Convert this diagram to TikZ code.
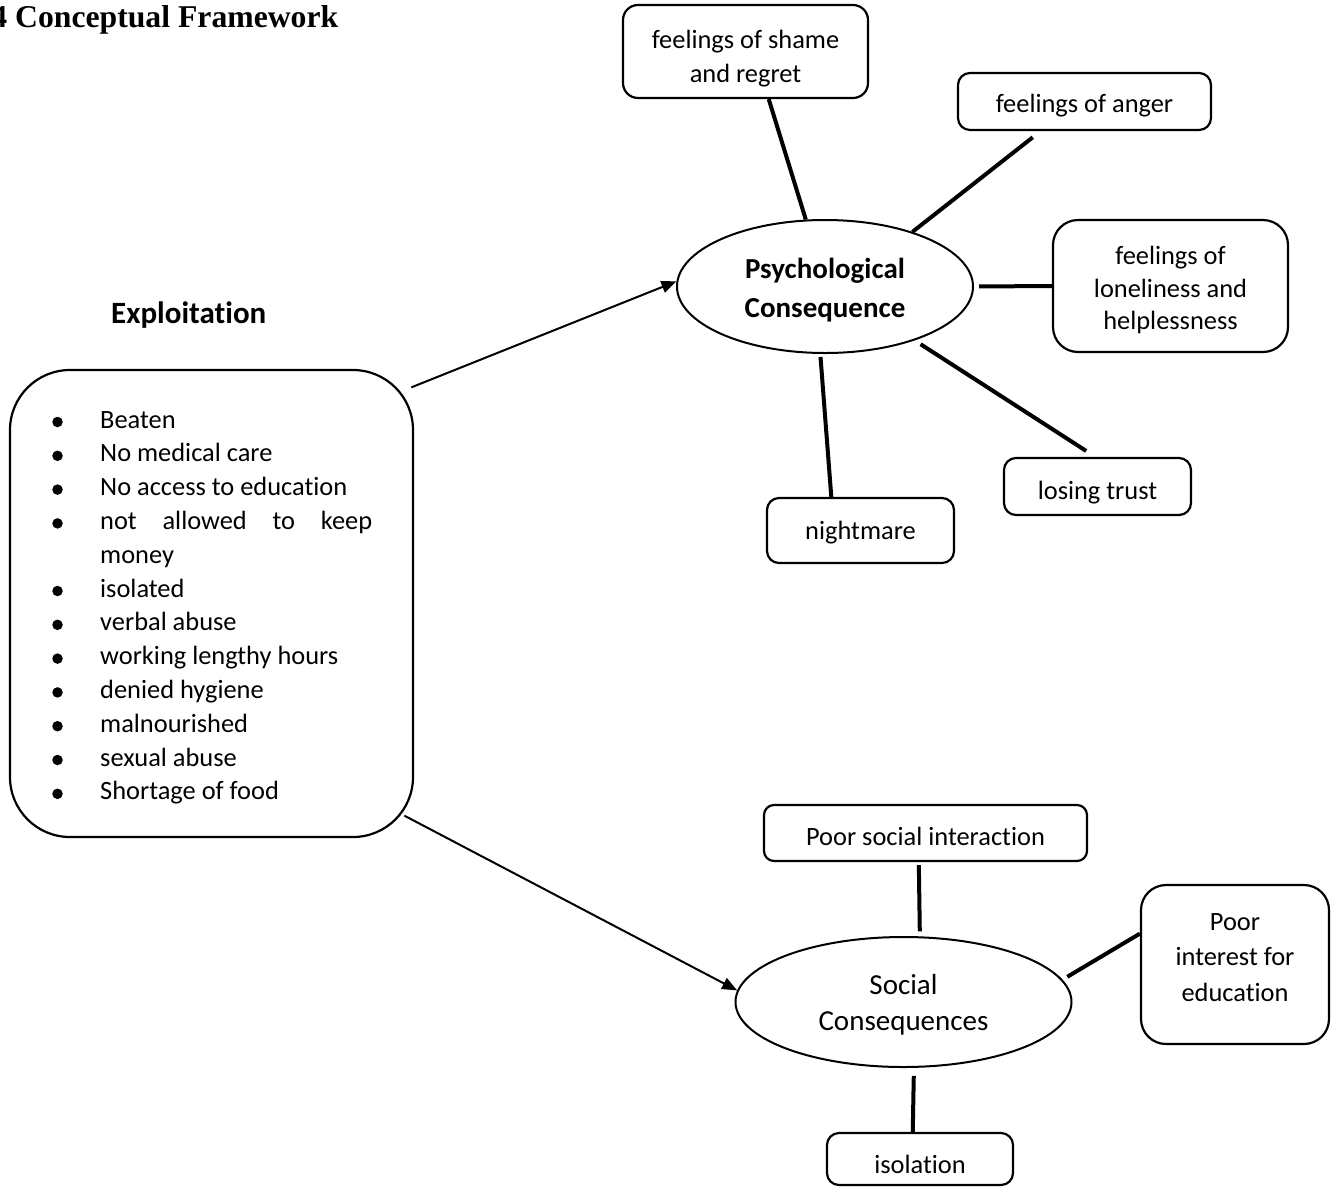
\documentclass[tikz,border=0pt]{standalone}
\usepackage{fontspec}
\setmainfont{Carlito}[Ligatures=NoCommon]
\newfontfamily\titlefont{Liberation Serif}
\usetikzlibrary{arrows.meta,shapes.geometric,calc}
\begin{document}
\begin{tikzpicture}[x=1pt,y=-1pt,
  box/.style={draw,line width=2.2pt,rounded corners=12pt,inner sep=0pt},
  btext/.style={inner sep=0pt,align=center,font=\fontsize{26.4}{33}\selectfont},
  ell/.style={draw,ellipse,line width=2pt,inner sep=0pt},
  spoke/.style={line width=4pt},
  arr/.style={line width=2pt,-{Triangle[length=15pt,width=12pt]}},
  item/.style={anchor=base west,inner sep=0pt,font=\fontsize{26.4}{32.5}\selectfont},
  dot/.style={circle,fill,inner sep=0pt,minimum size=10.5pt}]
\useasboundingbox (0,0) rectangle (1339,1187);

% title
\node[anchor=base west,inner sep=0pt,font=\titlefont\bfseries\fontsize{31.7}{38}\selectfont] (title) at (-8.8,27) {4 Conceptual Framework};

% exploitation
\node[anchor=base west,inner sep=0pt,font=\bfseries\fontsize{31}{36}\selectfont] (exhead) at (111,323) {Exploitation};
\node[draw,line width=2.2pt,rounded corners=60pt,minimum width=403pt,minimum height=467pt,inner sep=0pt] (expl) at (211.5,603.5) {};
\foreach \t [count=\i] in {Beaten,No medical care,No access to education,{\makebox[272pt][s]{not allowed to keep}},money,isolated,verbal abuse,working lengthy hours,denied hygiene,malnourished,sexual abuse,Shortage of food}
  \node[item] (it\i) at (100,{428+33.8*(\i-1)}) {\t};
\foreach \i in {1,2,3,4,6,7,8,9,10,11,12}
  \node[dot] (d\i) at (57.5,{428-6+33.8*(\i-1)}) {};

% psychological
\node[ell,minimum width=296pt,minimum height=133pt] (psy) at (825,286.5) {};
\node[btext,font=\bfseries\fontsize{29}{39}\selectfont] (psy-t) at ($(psy.center)+(0,4)$) {Psychological\\Consequence};
\node[box,rounded corners=15pt,minimum width=245pt,minimum height=93pt] (shame) at (745.5,51.5) {};
\node[btext,font=\fontsize{26.4}{34}\selectfont] (shame-t) at ($(shame.center)+(0,7)$) {feelings of shame\\and regret};
\node[box,minimum width=253pt,minimum height=57pt] (anger) at (1084.5,101.5) {};
\node[btext] (anger-t) at ($(anger.center)+(0,4)$) {feelings of anger};
\node[box,rounded corners=25pt,minimum width=235pt,minimum height=132pt] (lonely) at (1170.5,286) {};
\node[btext,font=\fontsize{26.4}{32.5}\selectfont] (lonely-t) at ($(lonely.center)+(0,4)$) {feelings of\\loneliness and\\helplessness};
\node[box,minimum width=187pt,minimum height=57pt] (trust) at (1097.5,486.5) {};
\node[btext] (trust-t) at ($(trust.center)+(0,6)$) {losing trust};
\node[box,minimum width=187pt,minimum height=65pt] (night) at (860.5,530.5) {};
\node[btext] (night-t) at ($(night.center)+(0,2)$) {nightmare};

% social
\node[ell,minimum width=336pt,minimum height=130pt] (soc) at (903.5,1002) {};
\node[btext,font=\fontsize{29}{36}\selectfont] (soc-t) at ($(soc.center)+(0,3)$) {Social\\Consequences};
\node[box,rounded corners=10pt,minimum width=323pt,minimum height=56pt] (psi) at (925.5,833) {};
\node[btext] (psi-t) at ($(psi.center)+(0,3)$) {Poor social interaction};
\node[box,rounded corners=25pt,minimum width=188pt,minimum height=159pt] (pie) at (1235,964.5) {};
\node[btext,font=\fontsize{26.4}{35.5}\selectfont] (pie-t) at ($(pie.center)+(0,-7)$) {Poor\\interest for\\education};
\node[box,minimum width=186pt,minimum height=52pt] (iso) at (920,1159) {};
\node[btext] (iso-t) at ($(iso.center)+(0,5)$) {isolation};

% arrows
\draw[arr,shorten <=-3pt] (expl.47.5) -- (psy.178);
\draw[arr,shorten <=-11pt] (expl.-47) -- (soc.176);

% spokes
\draw[spoke] (psy.106.9) -- (shame.-64.2);
\draw[spoke,shorten >=10pt] (psy.32.1) -- (anger.214.3);
\draw[spoke,shorten <=5pt] (psy.east) -- (lonely.west);
\draw[spoke,shorten <=7pt,shorten >=11pt] (psy.-31.7) -- (trust.94.4);
\draw[spoke,shorten <=3pt] (psy.-94) -- (night.131.5);
\draw[spoke,shorten <=5pt,shorten >=3pt] (soc.76.6) -- (psi.-103);
\draw[spoke,shorten <=5.6pt] (soc.8.8) -- (pie.162.6);
\draw[spoke,shorten <=8pt] (soc.-81.7) -- (iso.105.1);
\end{tikzpicture}
\end{document}
